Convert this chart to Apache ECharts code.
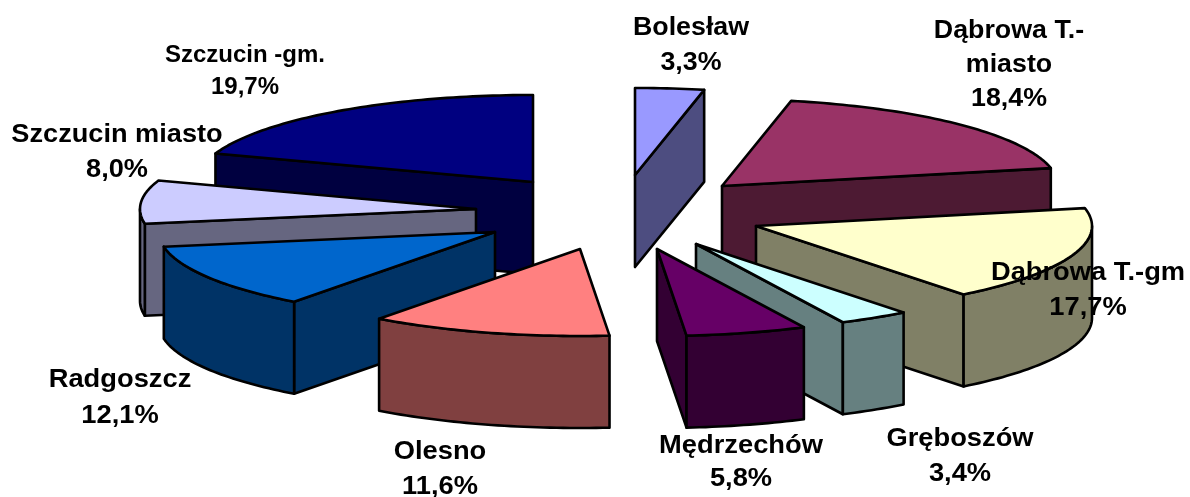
<!DOCTYPE html>
<html>
<head>
<meta charset="utf-8">
<style>html,body{margin:0;padding:0;background:#fff}#c{width:1190px;height:497px}</style>
<script src="https://cdn.jsdelivr.net/npm/echarts@6/dist/echarts.min.js"></script>
</head>
<body>
<div id="c"></div>
<script>
// --- data ---
const categories = ['Bolesław','Dąbrowa T.-miasto','Dąbrowa T.-gm','Gręboszów','Mędrzechów','Olesno','Radgoszcz','Szczucin miasto','Szczucin -gm.'];
const shares = [3.3,18.4,17.7,3.4,5.8,11.6,12.1,8.0,19.7];
const labelNames = ['Bolesław','Dąbrowa T.-\nmiasto','Dąbrowa T.-gm','Gręboszów','Mędrzechów','Olesno','Radgoszcz','Szczucin miasto','Szczucin -gm.'];

// --- styling and layout (not data) ---
const topColors  = ['#9999FF','#993366','#FFFFCC','#CCFFFF','#660066','#FF8080','#0066CC','#CCCCFF','#000080'];
const sideColors = ['#4D4D80','#4D1A33','#808066','#668080','#330033','#804040','#003366','#666680','#000040'];
const apexX = [635,722,756,696,657,580,495,476,533];
const apexY = [175,186,226,244,249,249,232,209,182];
const labelX = [691,1009,1088,960,741,440,120,117,245];
const labelY = [45,65,290,456,462,469,398,152,71];
const labelSize = [26,26,26,26,26,26,26,26,24];
const labelLine = [35,34,35,35,33,35,36,35,32];
const labelStretch = [1.03,1.03,1.05,1.05,1.05,1.05,1.05,1.045,1];
const RX = 336, RY = 87, DEPTH = 92;

const total = shares.reduce((a,b)=>a+b,0);
let run = 0;
const startAngle = shares.map(v=>{const a=run/total*Math.PI*2; run+=v; return a;});

// painter's order: slices further back first
const order = categories.map((_,i)=>i).sort((a,b)=>apexY[a]-apexY[b]);

function rim(cx,cy,a,b,dy){
  const n = Math.max(2,Math.ceil((b-a)/0.02)), pts=[];
  for(let k=0;k<=n;k++){
    const t=a+(b-a)*k/n;
    pts.push([cx+RX*Math.sin(t), cy-RY*Math.cos(t)+dy]);
  }
  return pts;
}
const stroke={stroke:'#000',lineWidth:2.6,lineJoin:'round'};
function poly(points,fill){
  return {type:'polygon',shape:{points},style:Object.assign({fill},stroke)};
}
function renderSlice(params,api){
  const i=api.value(0), share=api.value(1);
  const c=api.coord([api.value(2),api.value(3)]);
  const a=startAngle[i], b=a+share/total*Math.PI*2;
  const side=sideColors[i], kids=[];
  const wall=(t)=>{
    const e=[c[0]+RX*Math.sin(t), c[1]-RY*Math.cos(t)];
    kids.push(poly([[c[0],c[1]],e,[e[0],e[1]+DEPTH],[c[0],c[1]+DEPTH]],side));
  };
  if(Math.sin(a)<-1e-6) wall(a);
  if(Math.sin(b)>1e-6) wall(b);
  const f0=Math.max(a,Math.PI/2), f1=Math.min(b,Math.PI*1.5);
  if(f1>f0){
    const upper=rim(c[0],c[1],f0,f1,0), lower=rim(c[0],c[1],f0,f1,DEPTH).reverse();
    kids.push(poly(upper.concat(lower),side));
  }
  kids.push(poly([[c[0],c[1]]].concat(rim(c[0],c[1],a,b,0)),topColors[i]));
  return {type:'group',children:kids};
}
function renderLabel(params,api){
  const i=api.value(0), p=api.coord([labelX[i],labelY[i]]);
  const text=labelNames[i]+'\n'+shares[i].toFixed(1).replace('.',',')+'%';
  return {type:'text',x:p[0],y:p[1],scaleX:labelStretch[i],style:{
    text,fill:'#000',align:'center',verticalAlign:'middle',
    font:'bold '+labelSize[i]+'px "Liberation Sans", Arial, sans-serif',
    lineHeight:labelLine[i]
  }};
}

const chart=echarts.init(document.getElementById('c'),null,{renderer:'canvas'});
chart.setOption({
  animation:false,
  backgroundColor:'#fff',
  grid:{left:0,right:0,top:0,bottom:0},
  xAxis:{type:'value',min:0,max:1190,show:false},
  yAxis:{type:'value',min:0,max:497,inverse:true,show:false},
  series:[
    {type:'custom',name:'Udział',coordinateSystem:'cartesian2d',clip:false,silent:true,z:2,
     encode:{x:2,y:3},renderItem:renderSlice,
     data:order.map(i=>[i,shares[i],apexX[i],apexY[i]])},
    {type:'custom',name:'Etykiety',coordinateSystem:'cartesian2d',clip:false,silent:true,z:3,
     encode:{x:2,y:3},renderItem:renderLabel,
     data:categories.map((_,i)=>[i,shares[i],labelX[i],labelY[i]])}
  ]
});
</script>
</body>
</html>
